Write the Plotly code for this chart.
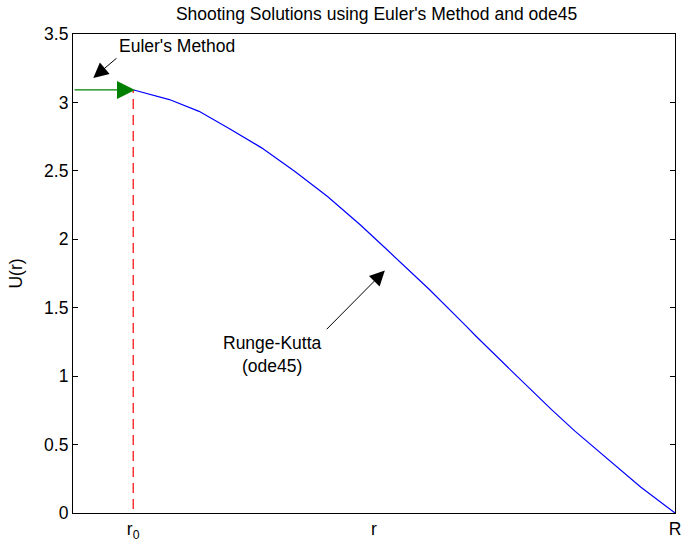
import plotly.graph_objects as go

# Shooting solution U(r) on [r0, R] (normalised so r0 = 0.1, R = 1)
r_vals = [0.101, 0.1601, 0.2094, 0.2586, 0.3133, 0.3681, 0.4228, 0.4775,
          0.5213, 0.5378, 0.592, 0.6527, 0.6691, 0.7348, 0.795, 0.8333,
          0.888, 0.9429, 1.0]
u_vals = [3.091, 3.021, 2.935, 2.812, 2.668, 2.497, 2.312, 2.104,
          1.925, 1.858, 1.633, 1.367, 1.293, 1.011, 0.755, 0.600,
          0.392, 0.190, 0.0]

r0 = 0.1
u0 = 3.091
x_tick_vals = [0.1, 0.5, 1.0]
x_tick_text = ["r<sub>0</sub>", "r", "R"]
y_tick_vals = [0, 0.5, 1, 1.5, 2, 2.5, 3, 3.5]
y_tick_text = ["0", "0.5", "1", "1.5", "2", "2.5", "3", "3.5"]

FONT = "Liberation Sans, Arial, sans-serif"
FS = 17.5

fig = go.Figure()

# vertical dashed marker at r0
fig.add_trace(go.Scatter(x=[r0, r0], y=[0.03, u0], mode="lines",
                         line=dict(color="#ff0000", width=1.2, dash="10px,6px"),
                         hoverinfo="skip", showlegend=False))

# Runge-Kutta (ode45) solution
fig.add_trace(go.Scatter(x=r_vals, y=u_vals, mode="lines",
                         line=dict(color="#0000ff", width=1.2),
                         showlegend=False))

annotations = [
    # green arrow: initial value from Euler's method
    dict(x=r0 + 0.003, y=u0, ax=0.0, ay=u0, xref="x", yref="y",
         axref="x", ayref="y", text="", showarrow=True, arrowhead=2,
         arrowsize=3.0, arrowwidth=1.2, arrowcolor="#008000"),
    # Euler's Method label + arrow
    dict(x=0.0337, y=3.179, ax=0.0747, ay=3.332, xref="x", yref="y",
         axref="x", ayref="y", text="", showarrow=True, arrowhead=2,
         arrowsize=3.0, arrowwidth=1, arrowcolor="#000000"),
    dict(x=0.173, y=3.412, xref="x", yref="y", text="Euler's Method",
         showarrow=False, font=dict(family=FONT, size=FS, color="#000000")),
    # Runge-Kutta label + arrow
    dict(x=0.518, y=1.772, ax=0.419, ay=1.332, xref="x", yref="y",
         axref="x", ayref="y", text="", showarrow=True, arrowhead=2,
         arrowsize=3.0, arrowwidth=1, arrowcolor="#000000"),
    dict(x=0.332, y=1.157, xref="x", yref="y", text="Runge-Kutta<br>(ode45)",
         showarrow=False, font=dict(family=FONT, size=FS, color="#000000")),
]

fig.update_layout(
    width=683, height=548,
    margin=dict(l=72.5, r=1.5, t=34, b=34.5),
    paper_bgcolor="#ffffff", plot_bgcolor="#ffffff",
    font=dict(family=FONT, size=FS, color="#000000"),
    title=dict(text="Shooting Solutions using Euler's Method and ode45",
               x=0.5513, xanchor="center", y=0.975, yanchor="middle",
               font=dict(family=FONT, size=FS, color="#000000")),
    annotations=annotations,
    xaxis=dict(range=[0, 1], tickvals=x_tick_vals, ticktext=x_tick_text,
               showgrid=False, zeroline=False, showline=True, mirror=True,
               linecolor="#000000", linewidth=1.2, ticks="", ticklen=0,
               ticklabeloverflow="allow",
               tickfont=dict(family=FONT, size=FS, color="#000000")),
    yaxis=dict(range=[0, 3.5], tickvals=y_tick_vals, ticktext=y_tick_text,
               showgrid=False, zeroline=False, showline=True, mirror="ticks",
               linecolor="#000000", linewidth=1.2, ticks="inside", ticklen=5,
               tickcolor="#000000", tickwidth=1,
               title=dict(text="U(r)", standoff=16,
                          font=dict(family=FONT, size=FS, color="#000000")),
               tickfont=dict(family=FONT, size=FS, color="#000000")),
)

fig.write_html("out.html")
